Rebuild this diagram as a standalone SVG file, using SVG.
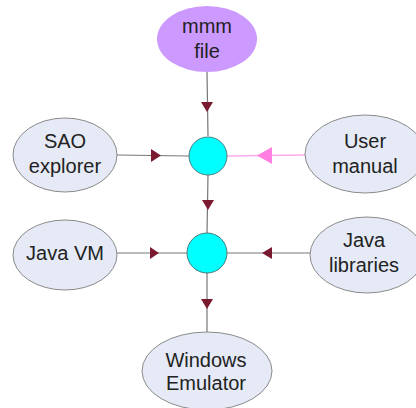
<svg xmlns="http://www.w3.org/2000/svg" width="416" height="408" viewBox="0 0 416 408">
<defs>
<style>
.node{fill:#e5eaf6;stroke:#8a8a8a;stroke-width:1}
.src{fill:#cc99ff;stroke:none}
.hub{fill:#00ffff;stroke:#4a7a7a;stroke-width:1}
.lbl{font-family:"Liberation Sans",Arial,sans-serif;font-size:20px;fill:#222;text-anchor:middle}
.edge{stroke:#777;stroke-width:1.2;fill:none}
.pedge{stroke:#ffaaee;stroke-width:1.5;fill:none}
.ah{fill:#7a1a30}
.pah{fill:#ff80e0}
</style>
</defs>
<rect width="416" height="408" fill="#ffffff"/>
<g id="connectors">
<line class="edge" x1="207" y1="72" x2="208" y2="136"/>
<polygon class="ah" points="201,102 213,102 207,112"/>
<line class="edge" x1="117" y1="155" x2="189" y2="156"/>
<polygon class="ah" points="151,149 151,162 161,155.5"/>
<line class="pedge" x1="227" y1="156" x2="305" y2="155"/>
<polygon class="pah" points="272,147 272,164 257,155.5"/>
<line class="edge" x1="208" y1="175" x2="207" y2="233"/>
<polygon class="ah" points="202,200 214,200 208,210"/>
<line class="edge" x1="117" y1="253" x2="187" y2="253"/>
<polygon class="ah" points="150,247 150,259 159,253"/>
<line class="edge" x1="227" y1="253" x2="310" y2="253"/>
<polygon class="ah" points="272,247 272,259 262,253"/>
<line class="edge" x1="207" y1="273" x2="207" y2="332"/>
<polygon class="ah" points="201,299 213,299 207,309"/>
</g>
<g id="mmm-file">
<ellipse class="src" cx="207" cy="39" rx="50" ry="33"/>
<text class="lbl" x="207" y="33">mmm</text>
<text class="lbl" x="207" y="58">file</text>
</g>
<g id="hub1"><circle class="hub" cx="208" cy="156" r="19"/></g>
<g id="hub2"><circle class="hub" cx="207" cy="253" r="20"/></g>
<g id="sao-explorer">
<ellipse class="node" cx="65" cy="155" rx="52" ry="37"/>
<text class="lbl" x="65" y="148">SAO</text>
<text class="lbl" x="65" y="173">explorer</text>
</g>
<g id="user-manual">
<ellipse class="node" cx="365" cy="154" rx="60" ry="39"/>
<text class="lbl" x="365" y="148">User</text>
<text class="lbl" x="365" y="173">manual</text>
</g>
<g id="java-vm">
<ellipse class="node" cx="65" cy="255" rx="52" ry="35"/>
<text class="lbl" x="65" y="260">Java VM</text>
</g>
<g id="java-libraries">
<ellipse class="node" cx="367" cy="255" rx="57" ry="38"/>
<text class="lbl" x="364" y="247">Java</text>
<text class="lbl" x="364" y="272">libraries</text>
</g>
<g id="windows-emulator">
<ellipse class="node" cx="207" cy="371" rx="65" ry="39"/>
<text class="lbl" x="206" y="367">Windows</text>
<text class="lbl" x="206" y="390">Emulator</text>
</g>
</svg>
